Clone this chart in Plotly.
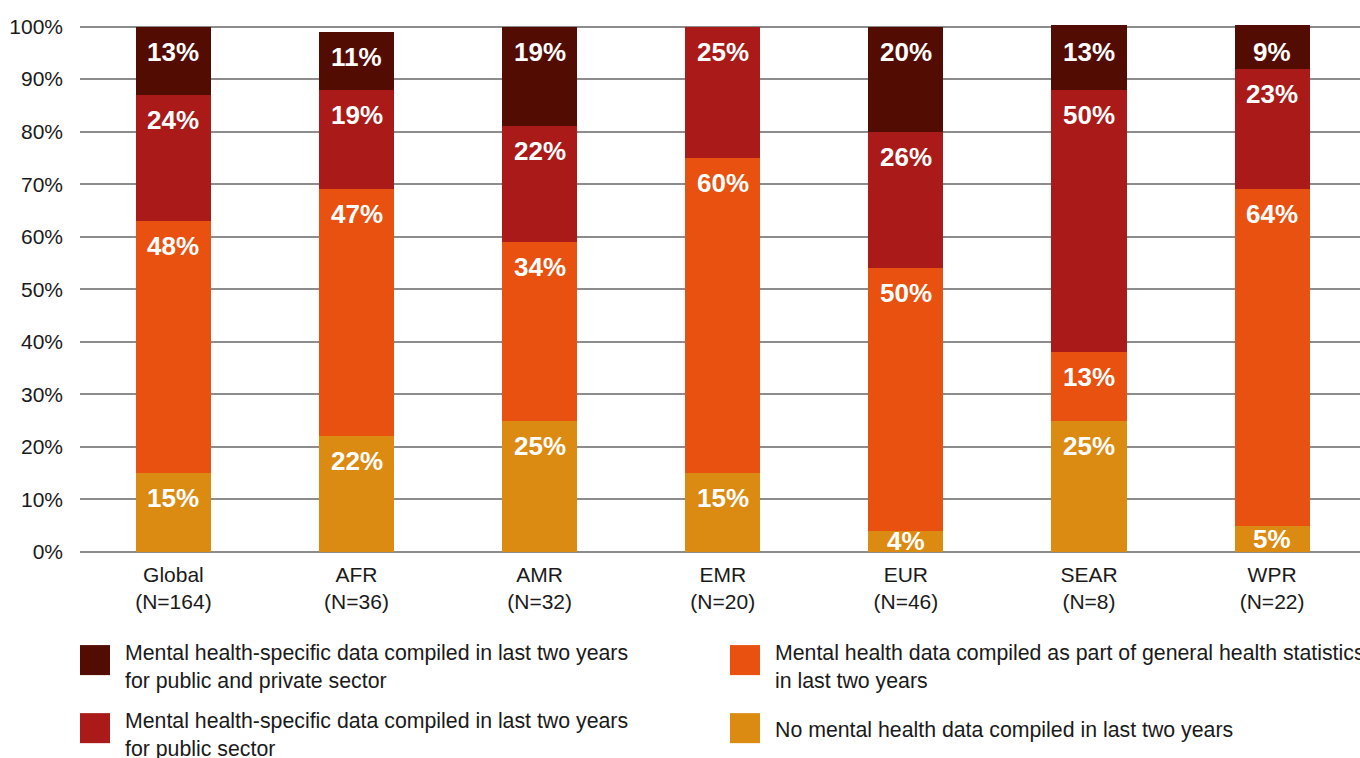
import plotly.graph_objects as go

# Regions and the number of responding countries
regions = ["Global", "AFR", "AMR", "EMR", "EUR", "SEAR", "WPR"]
counts = [164, 36, 32, 20, 46, 8, 22]

# Share of countries (%) per reporting category, bottom to top of each stack
none_compiled = [15, 22, 25, 15, 4, 25, 5]
general_stats = [48, 47, 34, 60, 50, 13, 64]
specific_public = [24, 19, 22, 25, 26, 50, 23]
specific_public_private = [13, 11, 19, 0, 20, 13, 9]

series_names = [
    "No mental health data compiled in last two years",
    "Mental health data compiled as part of general health statistics<br>in last two years",
    "Mental health-specific data compiled in last two years<br>for public sector",
    "Mental health-specific data compiled in last two years<br>for public and private sector",
]
series_values = [none_compiled, general_stats, specific_public, specific_public_private]
series_colors = ["#DC8B12", "#E8510F", "#AA1A18", "#530C02"]

FONT = "Liberation Sans, Arial"
W, H = 1360, 758
L, R, T, B = 80, 0, 25, 206
PLOT_TOP, PLOT_BOTTOM = 27, 552  # pixel rows of 100% and 0%
Y_MAX = 100.3


def px_x(x):
    return (x - L) / (W - L - R)


def px_y(y):
    return (PLOT_BOTTOM - y) / (PLOT_BOTTOM - PLOT_TOP) * (100 / Y_MAX)


categories = [f"{r}<br>(N={n})" for r, n in zip(regions, counts)]

fig = go.Figure()
for name, vals, color in zip(series_names, series_values, series_colors):
    fig.add_trace(go.Bar(
        x=categories, y=vals, name=name,
        marker=dict(color=color, line=dict(width=0)),
        hoverinfo="skip", showlegend=False,
    ))

# Value labels in white near the top of each segment
label_font = dict(family=FONT, size=26, color="white", weight="bold")
annotations = []
for ci, cat in enumerate(categories):
    base = 0
    for vals in series_values:
        v = vals[ci]
        if v > 0:
            if v < 8:
                annotations.append(dict(
                    x=cat, y=base + v / 2, xref="x", yref="y", text=f"{v}%",
                    showarrow=False, yanchor="middle", font=label_font,
                ))
            else:
                annotations.append(dict(
                    x=cat, y=min(base + v, 100), xref="x", yref="y", text=f"{v}%",
                    showarrow=False, yanchor="top", yshift=-8, font=label_font,
                ))
        base += v

# Two-column legend drawn below the plot
legend_items = [
    (series_names[3], series_colors[3], 80, 645),
    (series_names[2], series_colors[2], 80, 713),
    (series_names[1], series_colors[1], 730, 645),
    (series_names[0], series_colors[0], 730, 713),
]
shapes = []
for name, color, lx, ly in legend_items:
    shapes.append(dict(
        type="rect", xref="paper", yref="paper",
        x0=px_x(lx), x1=px_x(lx + 30), y0=px_y(ly + 30), y1=px_y(ly),
        fillcolor=color, line=dict(width=0),
    ))
    if "<br>" in name:
        ty, anchor = px_y(ly - 6), "top"
    else:
        ty, anchor = px_y(ly + 17), "middle"
    annotations.append(dict(
        x=px_x(lx + 43), y=ty, xref="paper", yref="paper",
        text=name, showarrow=False, xanchor="left", yanchor=anchor, align="left",
        font=dict(family=FONT, size=21.3, color="#1a1a1a"),
    ))

fig.update_layout(
    width=W, height=H,
    margin=dict(l=L, r=R, t=T, b=B),
    barmode="stack", bargap=0.59,
    plot_bgcolor="white", paper_bgcolor="white",
    font=dict(family=FONT, color="#1a1a1a"),
    xaxis=dict(
        range=[-0.51, 6.48], showgrid=False, showline=False, ticks="",
        tickfont=dict(size=21, color="#1a1a1a"), ticklabelstandoff=8,
        fixedrange=True,
    ),
    yaxis=dict(
        range=[0, Y_MAX], tickvals=list(range(0, 101, 10)),
        ticktext=[f"{v}%" for v in range(0, 101, 10)],
        showgrid=True, gridcolor="#8c8c8c", gridwidth=2,
        zeroline=True, zerolinecolor="#8c8c8c", zerolinewidth=2,
        showline=False, ticks="", tickfont=dict(size=21, color="#1a1a1a"),
        ticklabelstandoff=16, fixedrange=True,
    ),
    shapes=shapes,
    annotations=annotations,
)

fig.write_html("out.html", config={"displayModeBar": False})
